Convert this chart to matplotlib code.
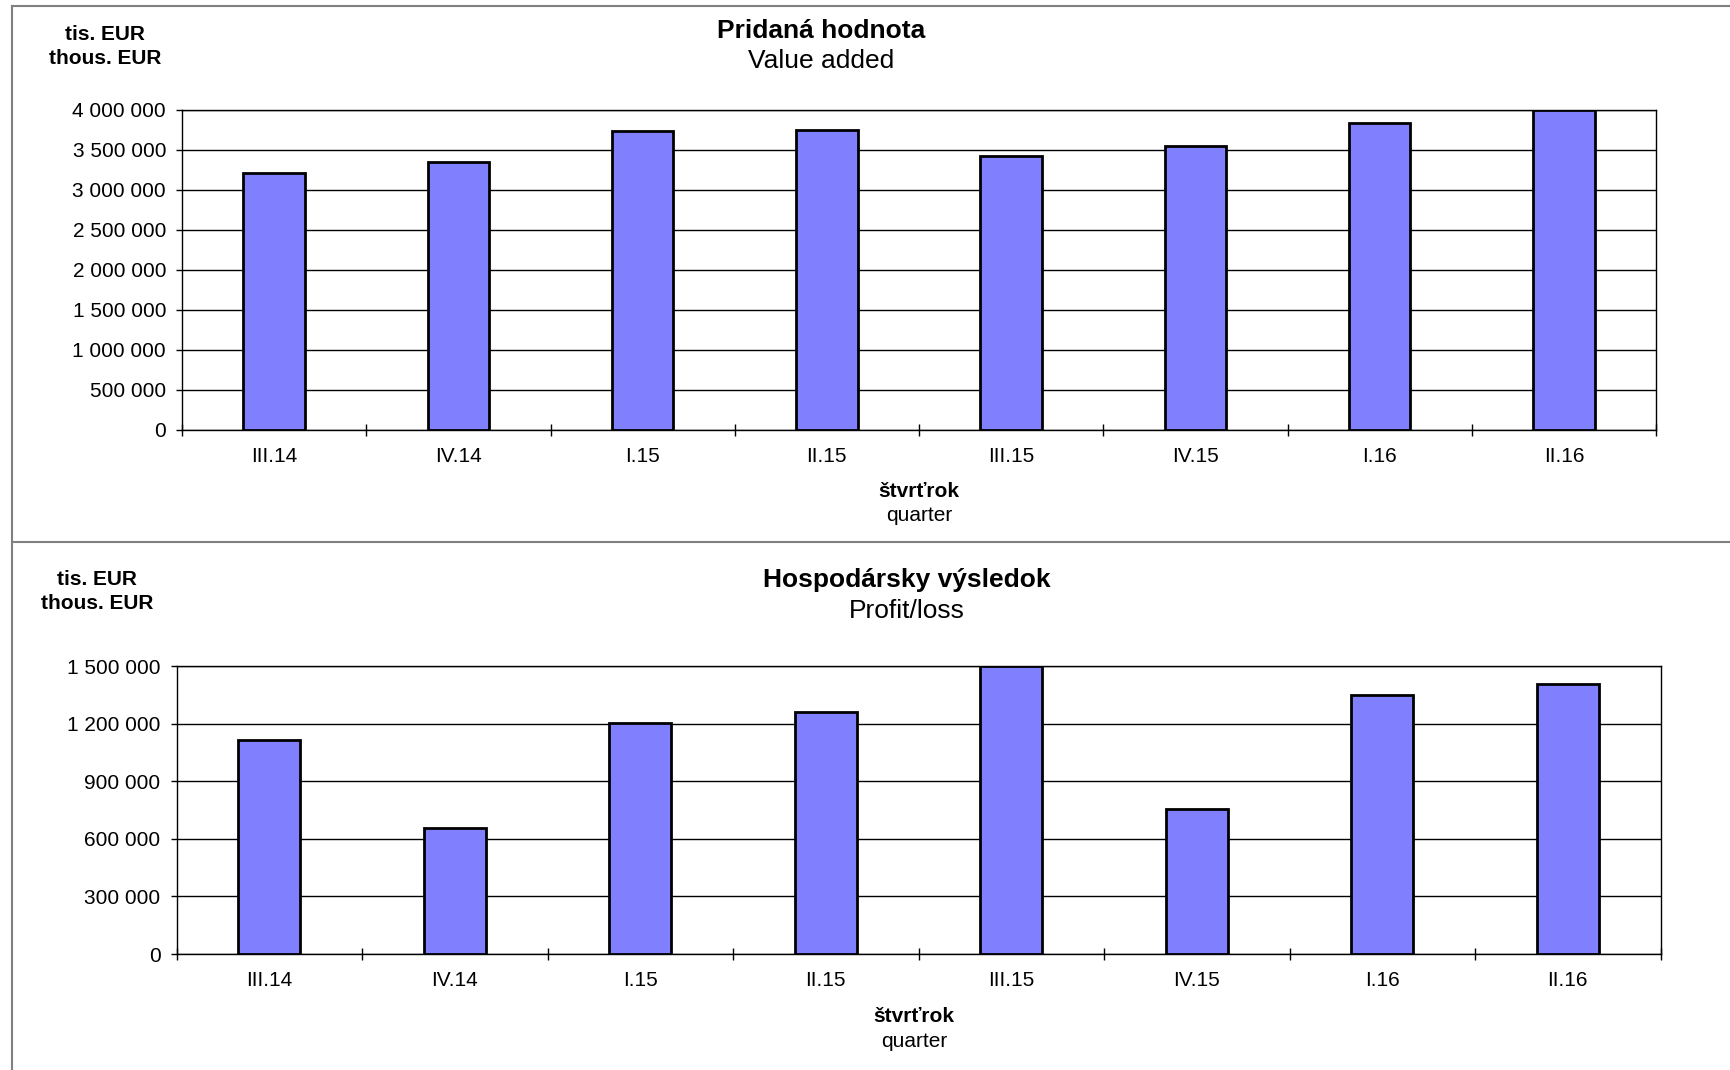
import numpy as np
import matplotlib
matplotlib.use("Agg")
import matplotlib.pyplot as plt
from matplotlib.lines import Line2D
from matplotlib.ticker import FuncFormatter, FixedLocator

plt.rcParams["font.family"] = ["Liberation Sans", "DejaVu Sans"]

# ---------------- DATA ----------------
quarters = ["III.14", "IV.14", "I.15", "II.15", "III.15", "IV.15", "I.16", "II.16"]
value_added = [3210000, 3355000, 3740000, 3750000, 3420000, 3545000, 3840000, 4000000]
profit_loss = [1115000, 654000, 1205000, 1259000, 1500000, 757000, 1347000, 1404000]

top_ticks = [0, 500000, 1000000, 1500000, 2000000, 2500000, 3000000, 3500000, 4000000]
bottom_ticks = [0, 300000, 600000, 900000, 1200000, 1500000]
# ---------------------------------------

W, H = 1730, 1070
BAR_COLOR = "#8080FF"
DY = 2.5  # small vertical nudge for free text


def px(x, y):
    """Pixel coords (from top-left) -> figure fraction."""
    return x / W, 1 - (y + DY) / H


def fmt(v, _pos=None):
    return f"{v:,.0f}".replace(",", " ")


def draw_panel(ax, values, ticks):
    x = np.arange(len(values))
    ax.bar(x, values, width=0.334, color=BAR_COLOR, edgecolor="black",
           linewidth=2.0, zorder=3)
    ax.set_xlim(-0.5, len(values) - 0.5)
    ax.set_ylim(ticks[0], ticks[-1])
    ax.set_yticks(ticks)
    ax.yaxis.set_major_formatter(FuncFormatter(fmt))
    ax.set_axisbelow(True)
    ax.grid(axis="y", color="black", linewidth=1.0)

    ax.set_xticks(x)
    ax.set_xticklabels(quarters)
    ax.xaxis.set_minor_locator(FixedLocator(np.arange(-0.5, len(values), 1.0)))
    ax.tick_params(axis="x", which="major", length=0, pad=12, labelsize=15)
    ax.tick_params(axis="x", which="minor", length=9, width=1, direction="inout")
    ax.tick_params(axis="y", length=4.5, width=1, direction="out", pad=7, labelsize=15)
    for s in ax.spines.values():
        s.set_linewidth(1.0)
        s.set_color("black")


fig = plt.figure(figsize=(W / 100, H / 100), dpi=100)

# outer frame lines
frame_kw = dict(color="#808080", linewidth=1.5, transform=fig.transFigure)
fig.add_artist(Line2D([12 / W, 1], [1 - 5.5 / H] * 2, **frame_kw))
fig.add_artist(Line2D([12 / W, 1], [1 - 542 / H] * 2, **frame_kw))
fig.add_artist(Line2D([12 / W] * 2, [1 - 5.5 / H, 0], **frame_kw))

# ---- top panel: value added ----
ax1 = fig.add_axes([182 / W, 1 - 430 / H, (1656 - 182) / W, 320 / H])
draw_panel(ax1, value_added, top_ticks)

fig.text(*px(821, 28), "Pridaná hodnota", ha="center", va="center",
         fontsize=19, fontweight="bold")
fig.text(*px(821, 59), "Value added", ha="center", va="center", fontsize=19)
fig.text(*px(105, 32), "tis. EUR", ha="center", va="center",
         fontsize=15, fontweight="bold")
fig.text(*px(105, 56), "thous. EUR", ha="center", va="center",
         fontsize=15, fontweight="bold")
fig.text(*px(919, 489), "štvrťrok", ha="center", va="center",
         fontsize=15, fontweight="bold")
fig.text(*px(919, 513), "quarter", ha="center", va="center", fontsize=15)

# ---- bottom panel: profit/loss ----
ax2 = fig.add_axes([176.5 / W, 1 - 954 / H, (1660.5 - 176.5) / W, 288 / H])
draw_panel(ax2, profit_loss, bottom_ticks)

fig.text(*px(907, 578), "Hospodársky výsledok", ha="center", va="center",
         fontsize=19, fontweight="bold")
fig.text(*px(907, 609), "Profit/loss", ha="center", va="center", fontsize=19)
fig.text(*px(97, 577), "tis. EUR", ha="center", va="center",
         fontsize=15, fontweight="bold")
fig.text(*px(97, 601), "thous. EUR", ha="center", va="center",
         fontsize=15, fontweight="bold")
fig.text(*px(914, 1014), "štvrťrok", ha="center", va="center",
         fontsize=15, fontweight="bold")
fig.text(*px(914, 1039), "quarter", ha="center", va="center", fontsize=15)

fig.savefig("out.png", dpi=100, facecolor="white")
